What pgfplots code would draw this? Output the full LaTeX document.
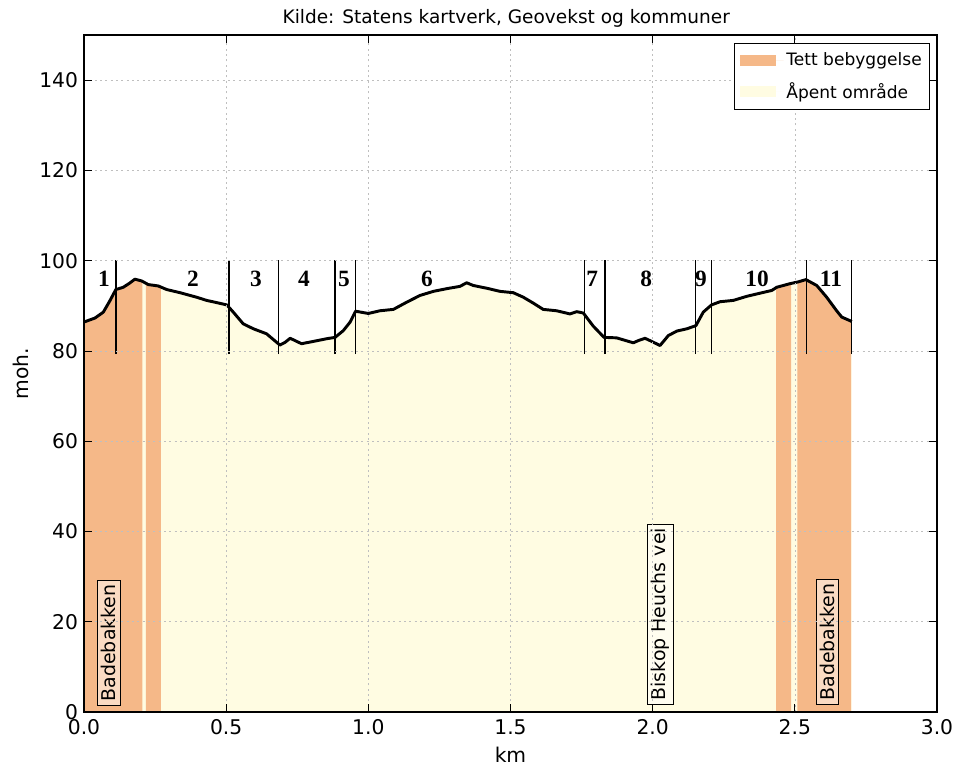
\documentclass[border=0pt]{standalone}
\usepackage{pgfplots}
\pgfplotsset{compat=1.18}
\usepackage{pgfplotstable}
\usepackage{fontspec}
\setmainfont{DejaVu Sans}
\newfontfamily\segfont{Liberation Serif}

\definecolor{built}{RGB}{245,184,136}
\definecolor{open}{RGB}{255,252,226}

\pgfplotsset{patch legend/.style={legend image code/.code={%
  \fill[##1] (0pt,-4pt) rectangle (27pt,4pt);
  \path (0pt,0pt) -- (33pt,0pt);}}}

% Elevation profile along the route (km, metres above sea level)
\pgfplotstableread{
x y
0.000 86.4
0.039 87.3
0.068 88.6
0.090 91.0
0.112 93.6
0.138 94.1
0.160 95.0
0.179 95.9
0.203 95.5
0.226 94.7
0.261 94.4
0.291 93.6
0.338 92.9
0.396 91.9
0.431 91.2
0.467 90.7
0.502 90.2
0.525 88.6
0.560 86.0
0.596 84.9
0.642 83.8
0.689 81.3
0.707 81.9
0.725 82.8
0.742 82.3
0.765 81.6
0.806 82.1
0.853 82.7
0.883 83.0
0.912 84.5
0.936 86.4
0.955 88.8
1.000 88.3
1.041 88.9
1.088 89.2
1.135 90.8
1.182 92.3
1.229 93.2
1.276 93.8
1.322 94.3
1.346 95.1
1.369 94.5
1.416 93.9
1.463 93.2
1.510 92.9
1.545 91.9
1.580 90.6
1.615 89.2
1.662 88.9
1.709 88.2
1.733 88.7
1.756 88.4
1.791 85.5
1.829 83.0
1.873 82.9
1.932 81.8
1.950 82.3
1.973 82.8
1.997 82.1
2.026 81.2
2.055 83.4
2.085 84.4
2.120 84.9
2.152 85.6
2.178 88.6
2.207 90.2
2.237 90.9
2.284 91.2
2.331 92.1
2.378 92.8
2.419 93.4
2.436 94.1
2.483 94.9
2.512 95.3
2.539 95.8
2.577 94.5
2.612 91.9
2.647 88.9
2.665 87.5
2.694 86.7
2.700 86.5
}\profile

% Built-up stretches of the same profile
\pgfplotstableread{
x y
0.000 86.4
0.039 87.3
0.068 88.6
0.090 91.0
0.112 93.6
0.138 94.1
0.160 95.0
0.179 95.9
0.203 95.5
0.205 95.45
}\builtA
\pgfplotstableread{
x y
0.218 95.0
0.226 94.7
0.261 94.4
0.270 94.2
}\builtB
\pgfplotstableread{
x y
2.434 94.0
2.436 94.1
2.483 94.9
2.487 94.95
}\builtC
\pgfplotstableread{
x y
2.509 95.25
2.512 95.3
2.539 95.8
2.577 94.5
2.612 91.9
2.647 88.9
2.665 87.5
2.694 86.7
2.698 86.5
}\builtD

% Segment boundaries
\pgfplotstableread{
x y
0.1125 79.3
0.1125 100.2
0.1125 nan
0.510 79.3
0.510 100.2
0.510 nan
0.685 79.3
0.685 100.2
0.685 nan
0.883 79.3
0.883 100.2
0.883 nan
0.954 79.3
0.954 100.2
0.954 nan
1.760 79.3
1.760 100.2
1.760 nan
1.832 79.3
1.832 100.2
1.832 nan
2.151 79.3
2.151 100.2
2.151 nan
2.207 79.3
2.207 100.2
2.207 nan
2.541 79.3
2.541 100.2
2.541 nan
2.700 79.3
2.700 100.2
}\bounds

\begin{document}
\begin{tikzpicture}
\begin{axis}[
  scale only axis, width=639.75pt, height=507.75pt,
  xmin=0, xmax=3, ymin=0, ymax=150,
  xtick={0,0.5,...,3}, ytick={0,20,...,140},
  /pgf/number format/assume math mode=true,
  xticklabel style={/pgf/number format/fixed, /pgf/number format/fixed zerofill,
    /pgf/number format/precision=1, yshift=-2.3pt},
  yticklabel style={xshift=-1pt},
  ticklabel style={font=\fontsize{15.2}{18}\selectfont},
  tick align=inside, tick pos=both, major tick length=6pt,
  tick style={black, line width=0.6pt},
  grid=major,
  grid style={black!25, dash pattern=on 1.5pt off 2.5pt, line width=0.5pt},
  axis line style={black, line width=1pt},
  axis on top,
  xlabel={km}, ylabel={moh.},
  xlabel style={at={(axis description cs:0.5,-0.0753)}, anchor=base, font=\fontsize{15.2}{18}\selectfont},
  ylabel style={at={(axis description cs:-0.0735,0.5)}, anchor=center, font=\fontsize{15.2}{18}\selectfont},
  title={Kilde: Statens kartverk, Geovekst og kommuner},
  title style={at={(axis description cs:0.495,1.0133)}, anchor=center, yshift=0pt,
    font=\fontsize{13.9}{16}\selectfont},
  legend cell align=left,
  legend style={at={(axis description cs:0.992,0.988)}, anchor=north east,
    draw=black, line width=0.6pt, font=\fontsize{12.8}{15}\selectfont,
    row sep=7pt, inner xsep=4pt, inner ysep=5pt},
]
% open land under the whole profile
\addplot[fill=open, draw=none, forget plot] table {\profile} \closedcycle;
% built-up stretches
\addplot[fill=built, draw=none, forget plot] table {\builtA} \closedcycle;
\addplot[fill=built, draw=none, forget plot] table {\builtB} \closedcycle;
\addplot[fill=built, draw=none, forget plot] table {\builtC} \closedcycle;
\addplot[fill=built, draw=none, forget plot] table {\builtD} \closedcycle;

% profile line
\addplot[black, line width=2.2pt, line join=round, forget plot] table {\profile};

% segment boundaries
\addplot[black, line width=0.9pt, unbounded coords=jump, forget plot] table {\bounds};

% segment numbers
\foreach \xx/\lab in {0.070/1, 0.383/2, 0.605/3, 0.774/4, 0.914/5, 1.206/6, 1.787/7, 1.977/8, 2.170/9, 2.367/10, 2.627/11}{
  \edef\tmp{\noexpand\node[font=\noexpand\segfont\noexpand\bfseries\noexpand\fontsize{17.5}{20}\noexpand\selectfont, anchor=center] at (axis cs:\xx,96) {\lab};}
  \tmp
}

% street names
\node[rotate=90, anchor=west, draw=black, line width=0.6pt, fill=white, fill opacity=0.5, text opacity=1,
      font=\fontsize{14.2}{16}\selectfont, inner sep=3pt] at (axis cs:0.087,1.4) {Badebakken};
\node[rotate=90, anchor=west, draw=black, line width=0.6pt, fill=white, fill opacity=0.5, text opacity=1,
      font=\fontsize{14.2}{16}\selectfont, inner sep=3pt] at (axis cs:2.028,1.6) {Biskop Heuchs vei};
\node[rotate=90, anchor=west, draw=black, line width=0.6pt, fill=white, fill opacity=0.5, text opacity=1,
      font=\fontsize{14.2}{16}\selectfont, inner sep=3pt] at (axis cs:2.614,1.6) {Badebakken};

\addlegendimage{patch legend, fill=built, draw=none}
\addlegendentry{Tett bebyggelse}
\addlegendimage{patch legend, fill=open, draw=none}
\addlegendentry{Åpent område}
\end{axis}
\pgfresetboundingbox
\path (-63pt,-41.25pt) rectangle (651.75pt,534pt);
\end{tikzpicture}
\end{document}
